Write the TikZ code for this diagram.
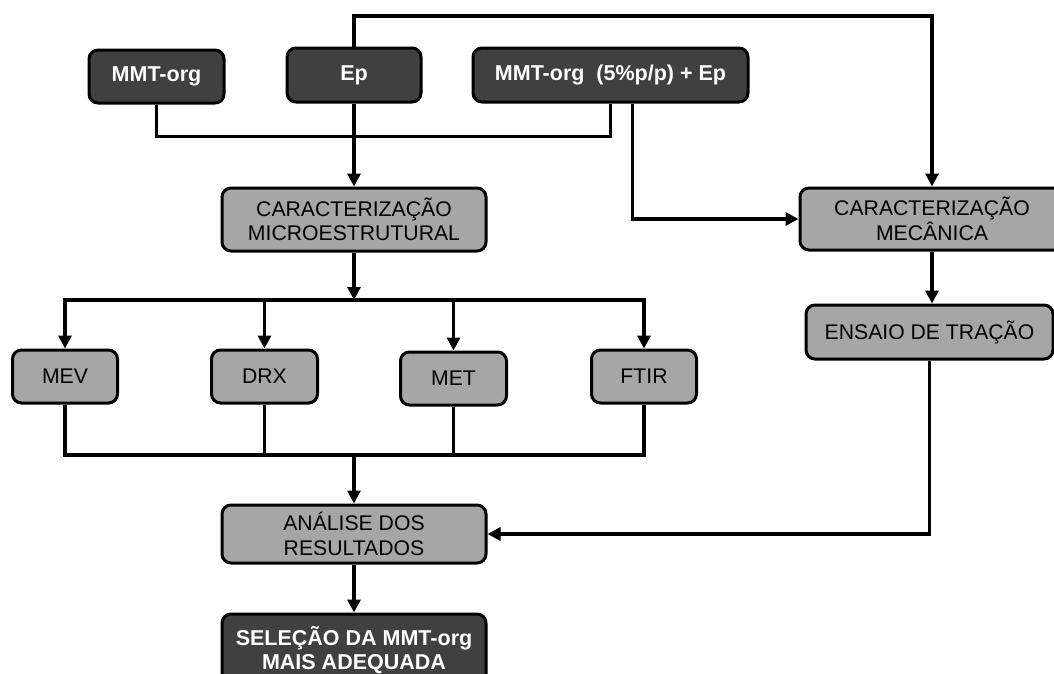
\documentclass[tikz,border=0pt]{standalone}
\usepackage{fontspec}
\setmainfont{Liberation Sans}
\usetikzlibrary{arrows.meta,calc}
\definecolor{gfill}{HTML}{A6A6A6}
\definecolor{dfill}{HTML}{404040}
\begin{document}
\begin{tikzpicture}[x=1pt,y=-1pt,
  box/.style={draw=black, line width=3pt, rounded corners=9pt, inner sep=0pt, align=center},
  gbox/.style={box, fill=gfill, text=black, font=\fontsize{21.2}{24.5}\selectfont},
  dbox/.style={box, fill=dfill, text=white, font=\fontsize{21.5}{24}\selectfont\bfseries},
  conn/.style={line width=3.4pt},
  arr/.style={conn, -{Triangle[length=13pt,width=13pt]}}]
\useasboundingbox (0,0) rectangle (1054,673);
\clip (0,0) rectangle (1054,673);

% top inputs
\node[dbox, minimum width=135pt, minimum height=53pt] (mmt) at (156.5,76.5) {MMT-org};
\node[dbox, minimum width=134pt, minimum height=54pt] (ep) at (354,75) {Ep};
\node[dbox, minimum width=275pt, minimum height=54pt] (p5) at (610.5,75) {MMT-org\ \ (5\%p/p) + Ep};

% characterisation
\node[gbox, minimum width=264pt, minimum height=63pt] (micro) at (354,219.5) {CARACTERIZAÇÃO\\MICROESTRUTURAL};
\node[gbox, minimum width=264pt, minimum height=62pt] (mec) at (932,219) {CARACTERIZAÇÃO\\MECÂNICA};
\node[gbox, minimum width=247pt, minimum height=54pt] (ensaio) at (929.5,332) {ENSAIO DE TRAÇÃO};

% techniques
\node[gbox, minimum width=105pt, minimum height=53pt] (mev) at (65,376.5) {MEV};
\node[gbox, minimum width=106pt, minimum height=53pt] (drx) at (264.5,376.5) {DRX};
\node[gbox, minimum width=106pt, minimum height=53pt] (met) at (453.5,378.5) {MET};
\node[gbox, minimum width=105pt, minimum height=53pt] (ftir) at (644,376.5) {FTIR};

% results
\node[gbox, minimum width=264pt, minimum height=58pt] (analise) at (354,534) {ANÁLISE DOS\\RESULTADOS};
\node[dbox, minimum width=264pt, minimum height=72pt] (selecao) at (354,650) {SELEÇÃO DA MMT-org\\MAIS ADEQUADA};

% connectors
\coordinate (top) at (354,16);
\draw[arr] (ep.north) -- (ep.north |- top) -| (mec.north);
\draw[conn] (mmt.south) -- ++(0,32) -| (p5.south);
\draw[arr] ([xshift=22pt]p5.south) |- (mec.west);
\draw[arr] (ep.south) -- (micro.north);

\coordinate (b1) at (354,300);
\draw[arr] (micro.south) -- (b1);
\draw[arr] (b1) -| (mev.north);
\draw[arr] (b1) -| (ftir.north);
\draw[arr] (drx.north |- b1) -- (drx.north);
\draw[arr] (met.north |- b1) -- (met.north);

\coordinate (b2) at (354,455);
\draw[conn] (mev.south) |- (b2);
\draw[conn] (ftir.south) |- (b2);
\draw[conn] (drx.south) -- (drx.south |- b2);
\draw[conn] (met.south) -- (met.south |- b2);
\draw[arr] (b2) -- (analise.north);

\draw[arr] (mec.south) -- (mec.south |- ensaio.north);
\draw[arr] (ensaio.south) |- (analise.east);
\draw[arr] (analise.south) -- (selecao.north);
\end{tikzpicture}
\end{document}
